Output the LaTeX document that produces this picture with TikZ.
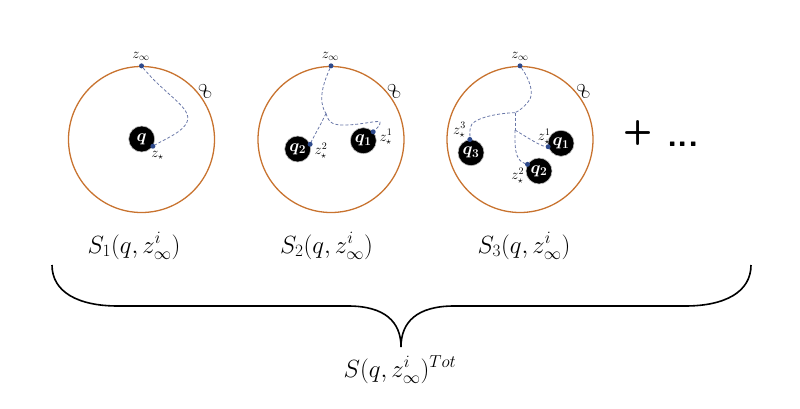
\documentclass[tikz,border=0pt]{standalone}
\usepackage{amsmath,amssymb}
\definecolor{ringc}{HTML}{C8732F}
\definecolor{pathc}{HTML}{6A78A8}
\definecolor{dotc}{HTML}{2E4A8C}
\begin{document}
\begin{tikzpicture}[x=1pt,y=-1pt,
 ring/.style={circle, draw=ringc, line width=1.3pt, minimum size=146pt, inner sep=0pt},
 charge/.style={circle, fill=black, draw=gray!50, line width=0.6pt, minimum size=26pt, inner sep=0pt, text=white, font=\fontsize{17}{17}\selectfont\boldmath},
 dpath/.style={draw=pathc, dash pattern=on 3pt off 2pt, line width=0.8pt},
 dotn/.style={circle, fill=dotc, inner sep=0pt, minimum size=5pt},
 zlab/.style={font=\fontsize{14}{14}\selectfont, inner sep=0pt},
 inflab/.style={font=\fontsize{16}{16}\selectfont, inner sep=0pt, rotate=-55},
 biglab/.style={font=\fontsize{25}{25}\selectfont, anchor=base, inner sep=0pt},
 brace/.style={draw=black, line width=1.6pt}
]
\useasboundingbox (0,0) rectangle (800,408);

% ---------- circle 1 ----------
\node[ring] (c1) at (141.5,139.5) {};
\node[charge] (q) at (141.7,139) {$q$};
\node[dotn] (zi1) at (c1.north) {};
\node[dotn] (zs1) at (q.-33) {};
\draw[dpath] (zi1) .. controls (165,95) and (193,108) .. (187,122) .. controls (183,132) and (165,139) .. (zs1);
\node[zlab] (l1a) at (141,56.5) {$z_\infty$};
\node[zlab] (l1b) at (157.5,155.5) {$z_\star$};
\node[inflab] (i1) at (205,91.7) {$\infty$};

% ---------- circle 2 ----------
\node[ring] (c2) at (331,139.5) {};
\node[charge] (q21) at (363.3,140.7) {$q_1$};
\node[charge] (q22) at (297.7,149) {$q_2$};
\node[dotn] (zi2) at (c2.north) {};
\node[dotn] (zs21) at (q21.42) {};
\node[dotn] (zs22) at (q22.21) {};
\coordinate (j2) at (326,113.5);
\draw[dpath] (zi2) .. controls (324,82) and (317,100) .. (j2);
\draw[dpath] (j2) .. controls (320,126) and (314,136) .. (zs22);
\draw[dpath] (j2) .. controls (329,124) and (334,125) .. (345,125) .. controls (360,125) and (378,120) .. (380,122) .. controls (381,125) and (376,129) .. (zs21);
\node[zlab] (l2a) at (330.3,56.5) {$z_\infty$};
\node[zlab] (l2b) at (386,137) {$z_\star^1$};
\node[zlab] (l2c) at (321,150.5) {$z_\star^2$};
\node[inflab] (i2) at (394,91.7) {$\infty$};

% ---------- circle 3 ----------
\node[ring] (c3) at (520,139.5) {};
\node[charge] (q31) at (561,143.3) {$q_1$};
\node[charge] (q32) at (539,171) {$q_2$};
\node[charge] (q33) at (471,152.7) {$q_3$};
\node[dotn] (zi3) at (c3.north) {};
\node[dotn] (zs31) at (q31.195) {};
\node[dotn] (zs32) at (q32.150) {};
\node[dotn] (zs33) at (q33.95) {};
\coordinate (j3) at (515,112.7);
\coordinate (k3) at (515,130);
\draw[dpath] (zi3) .. controls (530,80) and (535,95) .. (528,102) .. controls (524,107) and (519,111) .. (j3);
\draw[dpath] (j3) .. controls (500,113) and (478,117) .. (472,124) .. controls (469,128) and (470,135) .. (zs33);
\draw[dpath] (j3) -- (k3);
\draw[dpath] (k3) .. controls (525,136) and (540,146) .. (zs31);
\draw[dpath] (k3) .. controls (515,145) and (514,160) .. (zs32);
\node[zlab] (l3a) at (520,56.5) {$z_\infty$};
\node[zlab] (l3b) at (544.3,136.5) {$z_\star^1$};
\node[zlab] (l3c) at (517.7,175.5) {$z_\star^2$};
\node[zlab] (l3d) at (459.5,130) {$z_\star^3$};
\node[inflab] (i3) at (583.3,91.7) {$\infty$};

% ---------- plus dots ----------
\node[inner sep=0pt, font=\fontsize{34}{34}\sffamily\bfseries\selectfont] (plus) at (638,133) {+};
\node[inner sep=0pt, font=\fontsize{34}{34}\sffamily\bfseries\selectfont, anchor=base] (dots) at (683,146) {...};

% ---------- labels ----------
\node[biglab] (s1) at (134,253) {$S_1(q,z_\infty^i)$};
\node[biglab] (s2) at (326.5,253) {$S_2(q,z_\infty^i)$};
\node[biglab] (s3) at (524,253) {$S_3(q,z_\infty^i)$};
\node[biglab] (st) at (400,377) {$S(q,z_\infty^i)^{Tot}$};

% ---------- brace ----------
\coordinate (bl) at (52,265);
\coordinate (bt) at (401,347);
\coordinate (br) at (751,265);
\draw[brace] (bl) .. controls (52,292) and (78,306) .. (118,306) -- (348,306) .. controls (385,306) and (401,322) .. (bt)
 .. controls (401,322) and (417,306) .. (454,306) -- (685,306) .. controls (725,306) and (751,292) .. (br);
\end{tikzpicture}
\end{document}
